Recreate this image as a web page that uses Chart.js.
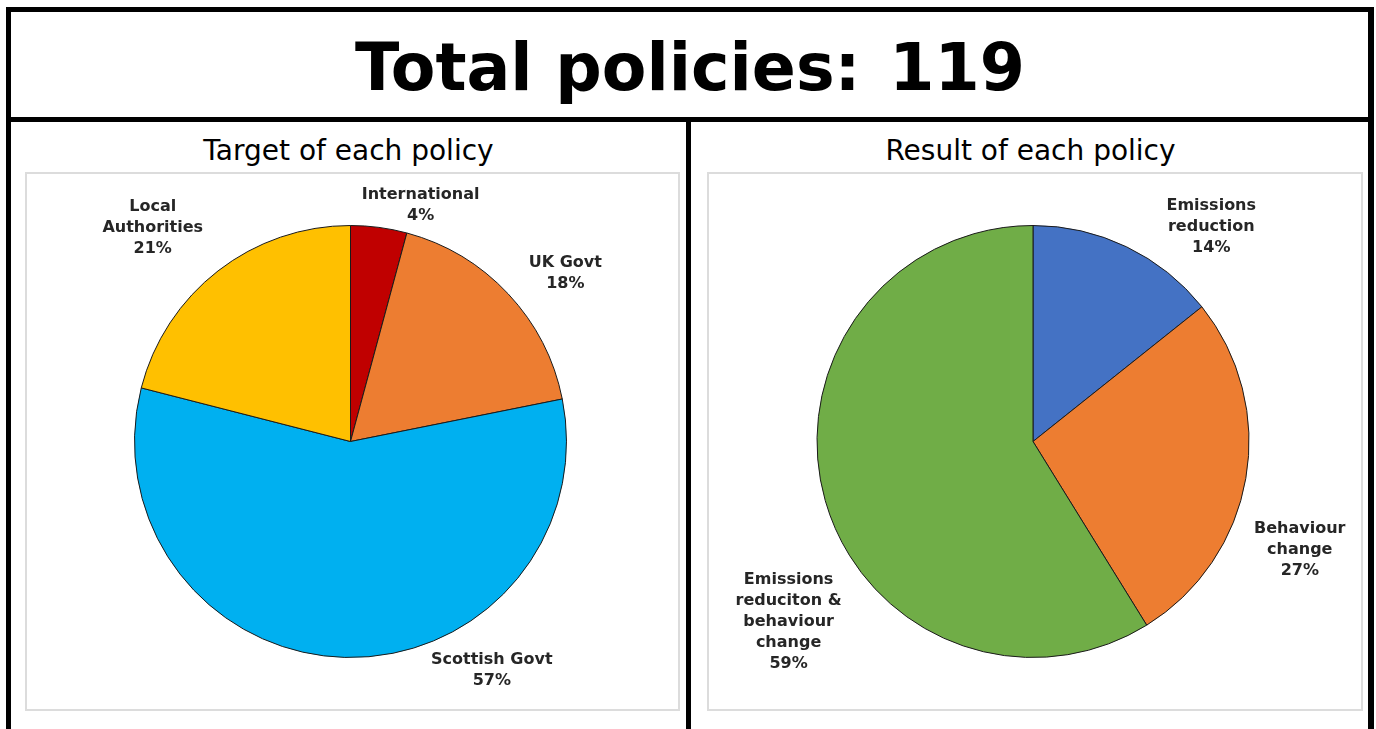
<!DOCTYPE html>
<html>
<head>
<meta charset="utf-8">
<title>Total policies</title>
<script src="https://cdn.jsdelivr.net/npm/chart.js@4.4.1/dist/chart.umd.min.js"></script>
<style>
  body { margin: 0; background: #fff; }
  #page { position: relative; width: 1376px; height: 729px; overflow: hidden; font-family: "DejaVu Sans", sans-serif; color: #000; }
  .bar { position: absolute; background: #000; }
  .title { position: absolute; left: 0; width: 1380px; top: 35px; text-align: center; font-size: 65px; font-weight: bold; line-height: 65px; }
  .title span { padding-left: 6px; }
  .sub { position: absolute; top: 137px; text-align: center; font-size: 28px; line-height: 28px; }
  .panel { position: absolute; top: 172px; height: 535px; border: 2px solid #dcdcdc; }
  .panel canvas { display: block; }
</style>
</head>
<body>
<div id="page">
  <!-- frame lines -->
  <div class="bar" style="left:6px; top:7px; width:1368px; height:5px;"></div>
  <div class="bar" style="left:6px; top:7px; width:5px; height:730px;"></div>
  <div class="bar" style="left:1368px; top:7px; width:6px; height:730px;"></div>
  <div class="bar" style="left:6px; top:117px; width:1368px; height:5px;"></div>
  <div class="bar" style="left:686px; top:117px; width:5px; height:620px;"></div>

  <div class="title">Total policies: <span>119</span></div>

  <div class="sub" style="left:0; width:697px;">Target of each policy</div>
  <div class="sub" style="left:691px; width:679px;">Result of each policy</div>

  <div class="panel" style="left:25px; width:651px;"><canvas id="targetChart" width="651" height="535"></canvas></div>
  <div class="panel" style="left:707px; width:652px;"><canvas id="resultChart" width="652" height="535"></canvas></div>
</div>

<script>
// counts of policies (119 in total)
const targetLabels = ['International', 'UK Govt', 'Scottish Govt', ['Local', 'Authorities']];
const targetValues = [5, 21, 68, 25];
const targetColors = ['#C00000', '#ED7D31', '#00B0F0', '#FFC000'];

const resultLabels = [['Emissions', 'reduction'], ['Behaviour', 'change'], ['Emissions', 'reduciton &', 'behaviour', 'change']];
const resultValues = [17, 32, 70];
const resultColors = ['#4472C4', '#ED7D31', '#70AD47'];

// draws "name / xx%" outside each slice
// angleShift (degrees) and gap (px) nudge each label like the original layout
const sliceLabels = {
    id: 'sliceLabels',
    afterDatasetsDraw(chart, args, opts) {
        const ctx = chart.ctx;
        const meta = chart.getDatasetMeta(0);
        const values = chart.data.datasets[0].data;
        const total = values.reduce((a, b) => a + b, 0);

        ctx.save();
        ctx.font = 'bold 16px "DejaVu Sans"';
        ctx.fillStyle = '#262626';
        ctx.textAlign = 'center';
        ctx.textBaseline = 'middle';

        meta.data.forEach((arc, i) => {
            const mid = (arc.startAngle + arc.endAngle) / 2 + opts.angleShift[i] * Math.PI / 180;
            const dist = arc.outerRadius + opts.gap[i];
            const cx = arc.x + Math.cos(mid) * dist;
            const cy = arc.y + Math.sin(mid) * dist;

            const lines = [].concat(chart.data.labels[i], Math.round(values[i] / total * 100) + '%');
            const lh = 21;
            lines.forEach((t, k) => {
                ctx.fillText(t, cx, cy + (k - (lines.length - 1) / 2) * lh);
            });
        });
        ctx.restore();
    }
};

function makePie(id, labels, values, colors, labelOpts) {
    return new Chart(document.getElementById(id), {
        type: 'pie',
        data: {
            labels: labels,
            datasets: [{
                data: values,
                backgroundColor: colors,
                borderColor: '#1a1a1a',
                borderWidth: 1
            }]
        },
        options: {
            responsive: false,
            animation: false,
            layout: { padding: { top: 51, bottom: 51, left: 0, right: 4 } },
            plugins: {
                legend: { display: false },
                tooltip: { enabled: false },
                sliceLabels: labelOpts
            }
        },
        plugins: [sliceLabels]
    });
}

makePie('targetChart', targetLabels, targetValues, targetColors,
    { angleShift: [9, 5, -33.2, -5], gap: [30, 57, 53, 75] });

makePie('resultChart', resultLabels, resultValues, resultColors,
    { angleShift: [14, 12.3, -20.6], gap: [63, 72, 88] });
</script>
</body>
</html>
